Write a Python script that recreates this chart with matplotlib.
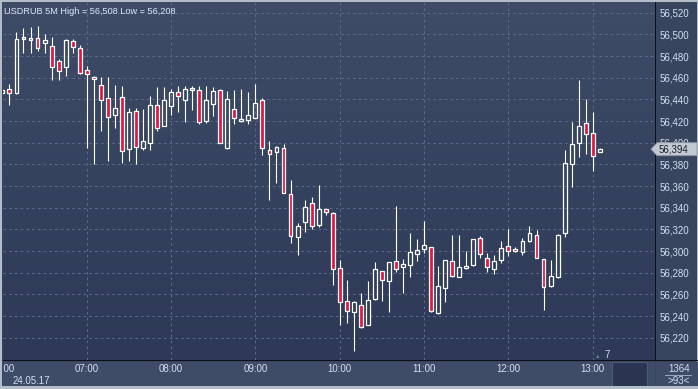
import numpy as np
import matplotlib
matplotlib.use("Agg")
import matplotlib.pyplot as plt
from matplotlib.patches import Rectangle, Polygon

plt.rcParams['font.family'] = ['Liberation Sans', 'DejaVu Sans']

# ---- data (USDRUB 5M, 24.05.17, from 06:00) ----
opens = [56.446, 56.450, 56.446, 56.496, 56.495, 56.497, 56.492, 56.489, 56.475, 56.470,
         56.494, 56.487, 56.467, 56.461, 56.453, 56.441, 56.426, 56.442, 56.394, 56.429,
         56.395, 56.400, 56.435, 56.415, 56.434, 56.447, 56.439, 56.449, 56.449, 56.420,
         56.436, 56.449, 56.395, 56.431, 56.420, 56.421, 56.423, 56.439, 56.393, 56.391,
         56.395, 56.353, 56.313, 56.327, 56.344, 56.324, 56.339, 56.335, 56.284, 56.254,
         56.244, 56.250, 56.232, 56.256, 56.282, 56.272, 56.291, 56.285, 56.287, 56.297,
         56.302, 56.304, 56.243, 56.266, 56.291, 56.276, 56.284, 56.287, 56.312, 56.294,
         56.283, 56.292, 56.305, 56.302, 56.299, 56.309, 56.315, 56.293, 56.268, 56.276,
         56.317, 56.380, 56.400, 56.418, 56.409, 56.391]
highs = [56.450, 56.454, 56.502, 56.506, 56.507, 56.508, 56.500, 56.498, 56.477, 56.496,
         56.496, 56.490, 56.471, 56.462, 56.461, 56.461, 56.453, 56.452, 56.432, 56.432,
         56.431, 56.443, 56.451, 56.451, 56.450, 56.452, 56.452, 56.452, 56.452, 56.452,
         56.451, 56.450, 56.448, 56.449, 56.450, 56.447, 56.454, 56.441, 56.402, 56.397,
         56.399, 56.366, 56.326, 56.347, 56.350, 56.361, 56.339, 56.336, 56.292, 56.273,
         56.254, 56.261, 56.272, 56.290, 56.282, 56.290, 56.342, 56.293, 56.317, 56.311,
         56.328, 56.304, 56.286, 56.292, 56.315, 56.315, 56.300, 56.311, 56.314, 56.298,
         56.296, 56.309, 56.320, 56.304, 56.312, 56.323, 56.319, 56.293, 56.292, 56.316,
         56.393, 56.419, 56.458, 56.440, 56.428, 56.395]
lows = [56.445, 56.435, 56.445, 56.483, 56.483, 56.485, 56.483, 56.458, 56.458, 56.462,
        56.483, 56.463, 56.395, 56.380, 56.411, 56.383, 56.414, 56.381, 56.383, 56.380,
        56.393, 56.393, 56.411, 56.415, 56.426, 56.428, 56.419, 56.430, 56.417, 56.418,
        56.425, 56.400, 56.394, 56.417, 56.419, 56.417, 56.423, 56.389, 56.347, 56.363,
        56.354, 56.307, 56.296, 56.318, 56.320, 56.322, 56.333, 56.269, 56.232, 56.234,
        56.208, 56.229, 56.232, 56.255, 56.254, 56.244, 56.281, 56.261, 56.276, 56.291,
        56.298, 56.244, 56.242, 56.253, 56.276, 56.276, 56.283, 56.286, 56.294, 56.281,
        56.279, 56.289, 56.295, 56.299, 56.296, 56.308, 56.294, 56.246, 56.267, 56.275,
        56.313, 56.359, 56.387, 56.390, 56.374, 56.391]
closes = [56.449, 56.446, 56.496, 56.497, 56.496, 56.487, 56.495, 56.470, 56.466, 56.495,
          56.488, 56.464, 56.463, 56.459, 56.439, 56.424, 56.432, 56.392, 56.428, 56.396,
          56.402, 56.435, 56.414, 56.439, 56.447, 56.443, 56.450, 56.450, 56.419, 56.439,
          56.448, 56.400, 56.440, 56.423, 56.422, 56.426, 56.437, 56.395, 56.390, 56.396,
          56.354, 56.314, 56.323, 56.341, 56.323, 56.339, 56.336, 56.283, 56.253, 56.245,
          56.253, 56.230, 56.255, 56.283, 56.273, 56.290, 56.283, 56.288, 56.299, 56.301,
          56.306, 56.245, 56.268, 56.292, 56.277, 56.285, 56.286, 56.311, 56.297, 56.285,
          56.291, 56.303, 56.300, 56.300, 56.309, 56.317, 56.294, 56.267, 56.277, 56.315,
          56.381, 56.399, 56.415, 56.408, 56.388, 56.394]
y_ticks = [56.22, 56.24, 56.26, 56.28, 56.30, 56.32, 56.34, 56.36, 56.38, 56.40,
           56.42, 56.44, 56.46, 56.48, 56.50, 56.52]
time_labels = ["06:00", "07:00", "08:00", "09:00", "10:00", "11:00", "12:00", "13:00"]
date_label = "24.05.17"
title = "USDRUB 5M High = 56,508 Low = 56,208"
last_price = 56.394

W, H = 698, 389
fig = plt.figure(figsize=(W / 100, H / 100), dpi=100)
fig.patch.set_facecolor('#3a4764')

def fr(x0, y0, x1, y1):
    """pixel box (top-left origin) -> figure fraction rect"""
    return [x0 / W, 1 - y1 / H, (x1 - x0) / W, (y1 - y0) / H]

# outer frame
fig.add_artist(Rectangle((0, 0), 1, 1, transform=fig.transFigure, facecolor='#b4bcc8',
                         edgecolor='none', zorder=-10))
fig.add_artist(Rectangle((2 / W, 3 / H), (W - 3) / W, (H - 5) / H, transform=fig.transFigure,
                         facecolor='#38455f', edgecolor='none', zorder=-9))

XL = (0.085, 92.86)
YL = (56.19941, 56.52988)
BG_TOP = np.array([62, 76, 104]) / 255
BG_BOT = np.array([45, 57, 86]) / 255
TXT = '#d2def2'
FS = 7.0

# ---- main axes ----
ax = fig.add_axes(fr(3, 2, 655, 360))
ax.set_xlim(*XL)
ax.set_ylim(*YL)
grad = np.linspace(0, 1, 256)[:, None, None]
img = BG_TOP * (1 - grad) + BG_BOT * grad
ax.imshow(img, extent=[0, 1, 0, 1], transform=ax.transAxes, aspect='auto', zorder=0,
          origin='upper')
for s in ax.spines.values():
    s.set_visible(False)

grid_c = '#5a6a88'
for yv in y_ticks:
    ax.axhline(yv, color=grid_c, lw=0.75, ls=(0, (2.5, 3)), zorder=1)
hour_idx = [12 * k for k in range(len(time_labels))]
for xv in hour_idx[1:]:
    ax.axvline(xv, color=grid_c, lw=0.75, ls=(0, (2.5, 3)), zorder=1)

o = np.array(opens); h = np.array(highs); l = np.array(lows); c = np.array(closes)
idx = np.arange(len(o))
top = np.maximum(o, c); bot = np.minimum(o, c)
ax.vlines(idx, top, h, color='white', lw=0.8, zorder=2)
ax.vlines(idx, l, bot, color='white', lw=0.8, zorder=2)
hgt = np.maximum(top - bot, 0.0012)
down = c < o
face = ['#e3163f' if d else 'none' for d in down]
ax.bar(idx, hgt, bottom=bot, width=0.55, color=face, edgecolor='white', linewidth=0.9,
       zorder=3)

ax.set_xticks([])
ax.yaxis.tick_right()
ax.set_yticks(y_ticks)
ax.set_yticklabels([f"{v:.3f}".replace('.', ',') for v in y_ticks])
ax.tick_params(axis='y', length=0, pad=3, labelsize=FS, labelcolor=TXT)
for t in ax.get_yticklabels():
    t.set_horizontalalignment('left')

ax.text(0.002, 0.985, title, transform=ax.transAxes, ha='left', va='top',
        fontsize=6.6, color='#dde7f6', zorder=5)

# separators
fig.add_artist(Rectangle((655 / W, 1 - 360 / H), 1.2 / W, 358 / H, transform=fig.transFigure,
                         facecolor='#0c0f18', edgecolor='none'))
fig.add_artist(Rectangle((3 / W, 1 - 361 / H), 695 / W, 1.2 / H, transform=fig.transFigure,
                         facecolor='#0c0f18', edgecolor='none'))

# price tag
py = 1 - (12.7 + (56.52 - last_price) * 1083.3) / H
tag = Polygon([(651 / W, py), (657 / W, py + 6.5 / H), (697 / W, py + 6.5 / H),
               (697 / W, py - 6.5 / H), (657 / W, py - 6.5 / H)], closed=True,
              transform=fig.transFigure, facecolor='#c3c9d3', edgecolor='#8e96a4', lw=0.6,
              zorder=6)
fig.add_artist(tag)
fig.text(659 / W, py, f"{last_price:.3f}".replace('.', ','), ha='left', va='center',
         fontsize=FS, color='#1a1e2a', zorder=7)

# ---- time axis ----
axt = fig.add_axes(fr(3, 361.5, 655, 386))
axt.set_facecolor('#3f4c68')
axt.set_xlim(*XL)
axt.set_ylim(0, 1)
axt.set_xticks([]); axt.set_yticks([])
for s in axt.spines.values():
    s.set_visible(False)
for xv, lab in zip(hour_idx, time_labels):
    t = axt.text(xv, 0.68, lab, ha='center', va='center', fontsize=FS, color=TXT)
    t.set_clip_on(True)
axt.text(1.5, 0.22, date_label, ha='left', va='center', fontsize=FS, color=TXT)
axt.add_patch(Rectangle((86.7, 0.0), 5.0, 1.0, facecolor='#2b3552', edgecolor='#4d5a75',
                        lw=0.8))
fig.text(604 / W, 1 - 355 / H, "7", ha='left', va='center', fontsize=FS, color=TXT)
fig.text(598 / W, 1 - 357 / H, "\u25b2", ha='center', va='center', fontsize=4,
         color='#6f7d98')

# right bottom corner
fig.add_artist(Rectangle((656.2 / W, 1 - 386 / H), 42 / W, 24.5 / H, transform=fig.transFigure,
                         facecolor='#3f4c68', edgecolor='none'))
fig.text(679 / W, 1 - 369 / H, "1364", ha='center', va='center', fontsize=FS, color=TXT)
fig.add_artist(Rectangle((665 / W, 1 - 375.5 / H), 27 / W, 0.8 / H, transform=fig.transFigure,
                         facecolor='#9aa6bc', edgecolor='none'))
fig.text(679 / W, 1 - 380.5 / H, ">93<", ha='center', va='center', fontsize=FS, color=TXT)

fig.savefig("out.png", dpi=100, facecolor=fig.get_facecolor())
